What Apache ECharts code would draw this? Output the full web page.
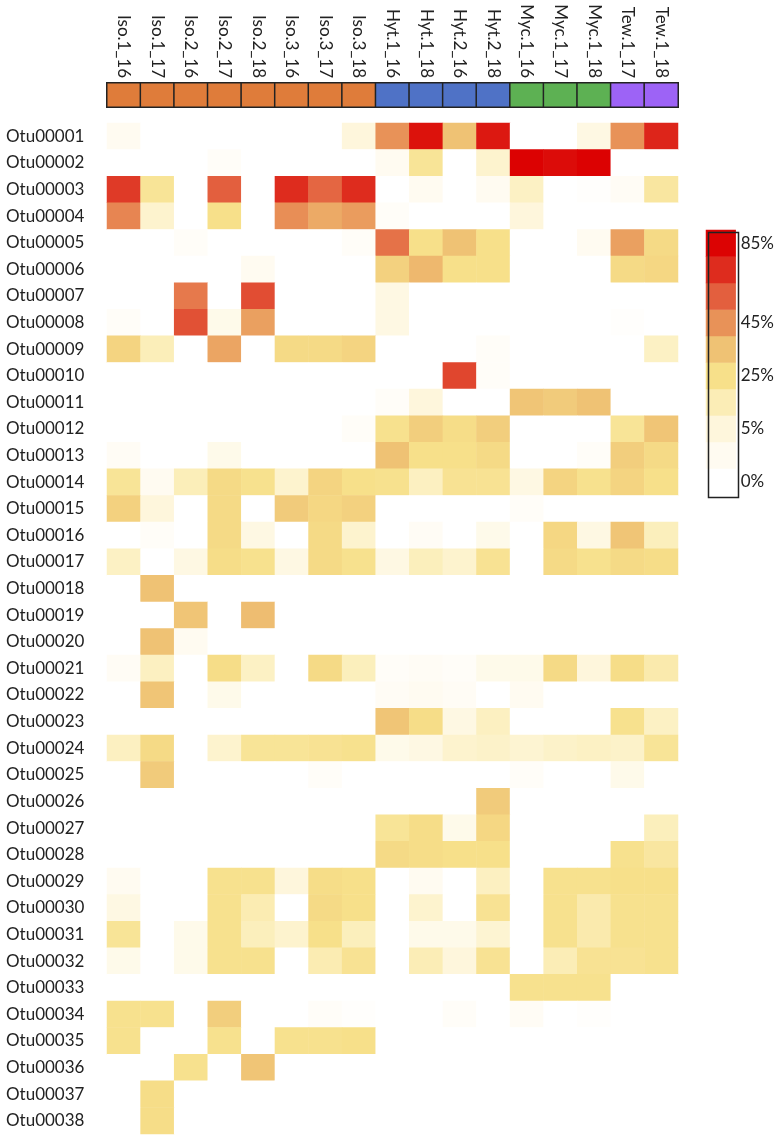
<!DOCTYPE html>
<html>
<head>
<meta charset="utf-8">
<script src="https://cdn.jsdelivr.net/npm/echarts@6/dist/echarts.min.js"></script>
<style>
html,body{margin:0;padding:0;background:#fff;}
#main{width:777px;height:1136px;}
</style>
</head>
<body>
<div id="main"></div>
<script>
// samples (columns) and their group
var samples = ["Iso.1_16","Iso.1_17","Iso.2_16","Iso.2_17","Iso.2_18","Iso.3_16","Iso.3_17","Iso.3_18",
	"Hyt.1_16","Hyt.1_18","Hyt.2_16","Hyt.2_18","Myc.1_16","Myc.1_17","Myc.1_18","Tew.1_17","Tew.1_18"];
var sampleGroup = ["Iso","Iso","Iso","Iso","Iso","Iso","Iso","Iso","Hyt","Hyt","Hyt","Hyt","Myc","Myc","Myc","Tew","Tew"];
var groupColors = {Iso:"#DF7C3A", Hyt:"#4F72C6", Myc:"#5DB153", Tew:"#9D63F6"};

var otus = [];
for (var k = 1; k <= 38; k++) otus.push("Otu" + ("0000" + k).slice(-5));

// relative abundance (%) per OTU, one row per OTU, in sample order
var abund = [
	[2,0,0,0,0,0,0,5, 45,80,35,78, 0,0,4, 45,74],
	[0,0,0,1,0,0,0,0, 2,22,0,8, 88,82,88, 0,0],
	[68,22,0,58,0,72,56,72, 0,2,0,2, 10,0,0.5, 1.5,20],
	[48,8,0,25,0,46,40,43, 1,0,0,0, 5,0,0, 0,0],
	[0,0,1,0,0,0,0,1, 53,25,35,25, 0,0,2, 42,27],
	[0,0,0,0,2,0,0,0, 30,37,25,25, 0,0,0, 27,28],
	[0,0,51,0,63,0,0,0, 4,0,0,0, 0,0,0, 0,0],
	[1,0,62,3,42,0,0,0, 4,0,0,0, 0,0,0, 0.5,0],
	[29,14,0,41,0,27,27,29, 0,0,0,1, 0,0,0, 0,10],
	[0,0,0,0,0,0,0,0, 0,0,65,1, 0,0,0, 0,0],
	[0,0,0,0,0,0,0,0, 1,5,0,0, 34,32,35, 0,0],
	[0,0,0,0,0,0,0,1, 24,31,26,31, 0,0,0, 22,34],
	[1.5,0,0,3,0,0,0,0, 35,25,25,27, 0,0,1, 31,27],
	[22,2,14,27,24,8,29,25, 24,11,23,23, 4,29,24, 29,25],
	[30,5,0,27,0,32,28,30, 0,0,0,0, 1,0,0, 0,0],
	[0,1,0,27,4,0,27,8, 0,1.5,0,3, 0,28,4, 34,13],
	[10,0,4,26,24,4,27,24, 4,13,8,23, 0,27,24, 27,26],
	[0,35,0,0,0,0,0,0, 0,0,0,0, 0,0,0, 0,0],
	[0,0,34,0,36,0,0,0, 0,0,0,0, 0,0,0, 0,0],
	[0,35,2,0,0,0,0,0, 0,0,0,0, 0,0,0, 0,0],
	[1.5,11,0,26,10,0,27,13, 1,1.5,1,3, 3,27,5, 26,17],
	[0,34,0,3,0,0,0,0, 1.5,2,1.5,0, 2,0,0, 0,0],
	[0,0,0,0,0,0,0,0, 34,26,4,11, 0,0,0, 24,10],
	[11,27,0,8,22,22,23,24, 3,4,8,9, 7,9,10, 9,22],
	[0,32,0,0,0,0,1,0, 0,0,0,0, 1,0,0, 3,0],
	[0,0,0,0,0,0,0,0, 0,0,0,32, 0,0,0, 0,0],
	[0,0,0,0,0,0,0,0, 22,26,3,28, 0,0,0, 0,13],
	[0,0,0,0,0,0,0,0, 27,26,25,25, 0,0,0, 24,20],
	[2,0,0,24,24,5,26,25, 0,2,0,11, 0,24,24, 25,25],
	[4,0,0,24,16,0,27,25, 0,8,0,23, 0,24,17, 24,24],
	[22,0,3,24,13,8,25,13, 0,3,3,7, 0,24,17, 24,24],
	[3,0,3,24,24,0,16,23, 0,15,5,23, 0,15,23, 23,24],
	[0,0,0,0,0,0,0,0, 0,0,0,0, 24,24,24, 0,0],
	[24,24,0,31,0,0,1,0.5, 0,0,1,0, 1.5,0,0.5, 0,0],
	[24,0,0,24,0,24,24,25, 0,0,0,0, 0,0,0, 0,0],
	[0,0,24,0,34,0,0,0, 0,0,0,0, 0,0,0, 0,0],
	[0,26,0,0,0,0,0,0, 0,0,0,0, 0,0,0, 0,0],
	[0,26,0,0,0,0,0,0, 0,0,0,0, 0,0,0, 0,0]
];

// colour key: one value per band (bottom to top) and the tick text shown beside it
var legendLevels = [0, 2, 5, 15, 25, 35, 45, 58, 72, 86];
var legendLabels = ["0%", "", "5%", "", "25%", "", "45%", "", "", "85%"];

// colour ramp, stops every 5% from 0 to 90
var ramp = ["#FFFFFF","#FEF6DC","#FCF1C4","#FBEDB6","#F9E6A0","#F7E08A","#F3D17F","#EFC274","#ECAA66","#E89258",
	"#E67D4E","#E46A44","#E2583A","#E0462E","#DE3222","#DD2218","#DC120C","#DC0404","#DC0000"];

var heatData = [];
abund.forEach(function(row, r){
	row.forEach(function(v, c){ heatData.push([c, r, v]); });
});
var barData = samples.map(function(s, i){
	return {value:[i, 0, 1], itemStyle:{color:groupColors[sampleGroup[i]]}};
});
var keyData = legendLevels.map(function(v, i){ return [0, i, v]; });

var font = "Lato";
var myChart = echarts.init(document.getElementById("main"), null, {renderer:"canvas"});
var option = {
	animation:false,
	backgroundColor:"#fff",
	textStyle:{fontFamily:font},
	grid:[
		{left:107, top:123, width:571, height:1011},
		{left:107, top:83, width:571, height:24},
		{left:706, top:230, width:30, height:265}
	],
	xAxis:[
		{type:"category", gridIndex:0, data:samples, show:false},
		{type:"category", gridIndex:1, data:samples, position:"top",
			axisLine:{show:false}, axisTick:{show:false},
			axisLabel:{rotate:90, margin:5, fontSize:17, color:"#222", fontFamily:font}},
		{type:"category", gridIndex:2, data:["k"], show:false}
	],
	yAxis:[
		{type:"category", gridIndex:0, data:otus, inverse:true,
			axisLine:{show:false}, axisTick:{show:false},
			axisLabel:{align:"left", margin:101, fontSize:17, color:"#222", fontFamily:font}},
		{type:"category", gridIndex:1, data:["g"], show:false},
		{type:"category", gridIndex:2, data:legendLabels.map(function(l, i){ return String(i); }), position:"right",
			axisLine:{show:false}, axisTick:{show:false},
			axisLabel:{margin:5, fontSize:17, color:"#222", fontFamily:font,
				formatter:function(v){ return legendLabels[+v]; }}}
	],
	visualMap:{
		type:"continuous", show:false, min:0, max:90, dimension:2,
		seriesIndex:[0, 2],
		inRange:{color:ramp}
	},
	series:[
		{type:"heatmap", xAxisIndex:0, yAxisIndex:0, data:heatData},
		{type:"heatmap", xAxisIndex:1, yAxisIndex:1, data:barData,
			itemStyle:{borderColor:"#222", borderWidth:1.5}},
		{type:"heatmap", xAxisIndex:2, yAxisIndex:2, data:keyData}
	],
	graphic:[
		{type:"rect", left:706, top:230, z:100,
			shape:{width:30, height:265},
			style:{fill:"none", stroke:"#222", lineWidth:1.5}}
	]
};
myChart.setOption(option);
</script>
</body>
</html>
